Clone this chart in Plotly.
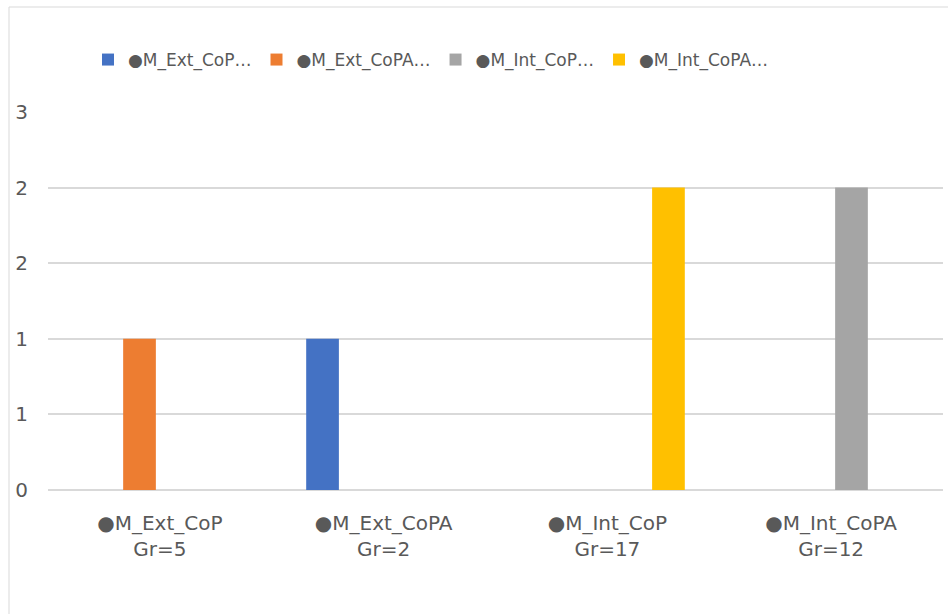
import plotly.graph_objects as go

categories = ["●M_Ext_CoP<br>Gr=5", "●M_Ext_CoPA<br>Gr=2", "●M_Int_CoP<br>Gr=17", "●M_Int_CoPA<br>Gr=12"]
series_names = ["●M_Ext_CoP…", "●M_Ext_CoPA…", "●M_Int_CoP…", "●M_Int_CoPA…"]
blue_vals = [None, 1, None, None]
orange_vals = [1, None, None, None]
gray_vals = [None, None, None, 2]
yellow_vals = [None, None, 2, None]
y_tickvals = [0, 0.5, 1, 1.5, 2, 2.5]
y_ticktext = ["0", "1", "1", "2", "2", "3"]

colors = ["#4472C4", "#ED7D31", "#A5A5A5", "#FFC000"]
FONT = "DejaVu Sans"
FS = 20
LFS = 17
W, H = 948, 614
L, R, T, B = 48, 5, 112, 124

fig = go.Figure()
for name, vals, col in zip(series_names, [blue_vals, orange_vals, gray_vals, yellow_vals], colors):
    fig.add_trace(go.Bar(x=categories, y=vals, name=name, marker=dict(color=col, line=dict(width=0))))

plot_w = W - L - R
plot_h = H - T - B
fig.add_shape(type="rect", xref="paper", yref="paper",
              x0=(9 - L) / plot_w, x1=(W + 20 - L) / plot_w,
              y0=(H - B - 7) / plot_h, y1=-(B + 20) / plot_h,
              line=dict(color="#d9d9d9", width=1), fillcolor="rgba(0,0,0,0)", layer="below")

fig.update_layout(
    width=W, height=H,
    margin=dict(l=L, r=R, t=T, b=B),
    paper_bgcolor="white", plot_bgcolor="white",
    barmode="group", bargap=0.272, bargroupgap=0.197,
    font=dict(family=FONT, size=FS, color="#595959"),
    showlegend=True,
    legend=dict(orientation="h", xref="container", yref="container",
                x=88 / W, y=1 - 60 / H, xanchor="left", yanchor="middle",
                font=dict(family=FONT, size=LFS, color="#595959"),
                itemclick=False, traceorder="normal", bgcolor="rgba(0,0,0,0)",
                itemwidth=30, tracegroupgap=0),
    xaxis=dict(type="category", showgrid=False, showline=False, zeroline=False,
               ticks="outside", ticklen=15, tickcolor="rgba(0,0,0,0)",
               tickfont=dict(family=FONT, size=FS, color="#595959")),
    yaxis=dict(range=[0, 2.5], tickvals=y_tickvals, ticktext=y_ticktext,
               showgrid=True, gridcolor="#d9d9d9", gridwidth=1.5,
               zeroline=True, zerolinecolor="#d9d9d9", zerolinewidth=1.5,
               showline=False, ticks="outside", ticklen=15, tickcolor="rgba(0,0,0,0)",
               tickfont=dict(family=FONT, size=FS, color="#595959")),
)

fig.write_html("out.html", config={"displayModeBar": False},
               post_script="document.body.style.margin='0';")
